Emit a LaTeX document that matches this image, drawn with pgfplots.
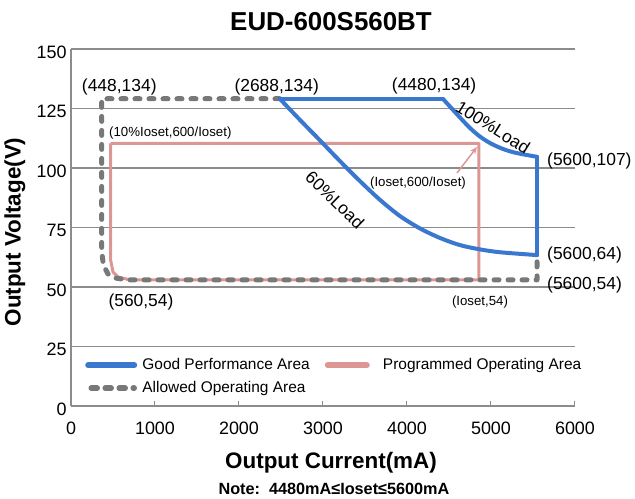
\documentclass[border=0pt]{standalone}
\usepackage{pgfplots}
\pgfplotsset{compat=1.18}
\usetikzlibrary{arrows.meta}
\usepackage{fontspec}
\setmainfont{Liberation Sans}

\definecolor{goodblue}{RGB}{58,120,207}
\definecolor{progpink}{RGB}{220,150,148}
\definecolor{allowgray}{RGB}{120,120,120}
\definecolor{gridgray}{RGB}{140,140,140}

\newcommand{\ann}{\fontsize{17.5}{20}\selectfont}
\newcommand{\anns}{\fontsize{13.3}{15}\selectfont}

\begin{document}
\begin{tikzpicture}
\begin{axis}[
    at={(0,0)}, anchor=south west,
    scale only axis, width=504bp, height=357bp,
    xmin=0, xmax=6000, ymin=0, ymax=150,
    xtick={0,1000,...,6000}, ytick={0,25,...,150},
    axis x line*=bottom, axis y line*=left,
    axis line style={gridgray, line width=1.5bp, -},
    ymajorgrids, major grid style={gridgray, line width=1.5bp},
    ytick style={draw=none},
    xtick style={gridgray, line width=1bp},
    major tick length=5bp, tick align=inside,
    x tick label style={font=\fontsize{18}{20}\selectfont, yshift=-12bp},
    y tick label style={font=\fontsize{18}{20}\selectfont, xshift=-1bp, yshift=-3bp},
    /pgf/number format/assume math mode=true,
    /pgf/number format/1000 sep={},
    clip=false,
    legend cell align=left,
    legend columns=2,
    legend style={at={(axis cs:167,21)}, anchor=north west, draw=none, fill=none,
        inner sep=0pt, row sep=5bp,
        font=\fontsize{15.5}{17}\selectfont,
        nodes={text height=11bp, text depth=3bp, inner sep=2bp},
        /tikz/every even column/.append style={column sep=13bp}},
]
% legend images, in the reference's order
\addlegendimage{legend image code/.code={\draw[goodblue, line width=6bp, line cap=round] (0bp,0bp) -- (46bp,0bp); \path (52bp,0bp);}}
\addlegendentry{Good Performance Area}
\addlegendimage{legend image code/.code={\draw[progpink, line width=6bp, line cap=round] (3bp,0bp) -- (42bp,0bp); \path (56bp,0bp);}}
\addlegendentry{Programmed Operating Area}
\addlegendimage{legend image code/.code={\draw[allowgray, line width=5.5bp, line cap=round, dash pattern=on 6bp off 8bp] (3bp,0bp) -- (46bp,0bp); \path (52bp,0bp);}}
\addlegendentry{Allowed Operating Area}

% programmed operating area
\addplot[forget plot, progpink, line width=3bp, line join=round] coordinates {
    (472,110.3) (4857,110.3) (4857,53.0) (702,53.0) (560,54.2) (500,56.3) (472,61.3) (472,110.3)
};

% allowed operating area
\addplot[forget plot, allowgray, line width=5bp, line cap=round, line join=round,
    dash pattern=on 5bp off 9bp] coordinates {
    (2488,129.1) (365,129.1) (365,65.5) (385,59.2) (440,55.5) (524,53.8) (667,53.0)
    (5548,53.0) (5548,63.4)
};

% good performance area
\addplot[forget plot, goodblue, line width=4bp, line cap=round, line join=round] coordinates {
    (2488,129.0) (4429,129.0)
};
\addplot[forget plot, goodblue, line width=4bp, line cap=round, smooth] coordinates {
    (4429,129.0) (4512,125.8) (4631,121.2) (4750,116.8) (4869,113.2) (4988,110.5)
    (5107,108.5) (5226,107.0) (5345,106.0) (5548,104.7)
};
\addplot[forget plot, goodblue, line width=4bp, line cap=round] coordinates {
    (5548,104.7) (5548,63.4)
};
\addplot[forget plot, goodblue, line width=4bp, line cap=round, smooth] coordinates {
    (2488,129.0) (2726,120.2) (2964,111.6) (3202,102.9) (3440,94.5) (3679,86.6)
    (3917,79.8) (4155,74.6) (4393,70.6) (4631,67.6) (4869,65.8) (5107,64.6) (5548,63.4)
};

% annotations
\node[font=\ann] at (axis cs:575,134.0) {(448,134)};
\node[font=\ann] at (axis cs:2449,134.0) {(2688,134)};
\node[font=\ann] at (axis cs:4323,134.5) {(4480,134)};
\node[font=\ann, rotate=-32] at (axis cs:5024,117.2) {100\%Load};
\node[font=\ann, anchor=west, inner sep=0pt] at (axis cs:5667,102.9) {(5600,107)};
\node[font=\ann, rotate=-44] at (axis cs:3143,86.6) {60\%Load};
\node[font=\anns, anchor=west, inner sep=0pt] at (axis cs:452,114.7) {(10\%Ioset,600/Ioset)};
\node[font=\anns] at (axis cs:4131,93.7) {(Ioset,600/Ioset)};
\draw[progpink, line width=1.5bp, -{Stealth[length=7bp, width=6bp]}]
    (axis cs:4595,97.9) -- (axis cs:4833,108.8);
\node[font=\ann, anchor=west, inner sep=0pt] at (axis cs:5667,63.4) {(5600,64)};
\node[font=\ann, anchor=west, inner sep=0pt] at (axis cs:5667,50.8) {(5600,54)};
\node[font=\ann] at (axis cs:833,43.7) {(560,54)};
\node[font=\anns] at (axis cs:4869,43.7) {(Ioset,54)};
\end{axis}

% title and axis titles
\node[font=\fontsize{26}{30}\selectfont\bfseries] at (260bp,384bp) {EUD-600S560BT};
\node[font=\fontsize{22.5}{26}\selectfont\bfseries] at (260bp,-57bp) {Output Current(mA)};
\node[font=\fontsize{16.3}{19}\selectfont\bfseries] at (263bp,-83bp) {Note:\ \ 4480mA≤Ioset≤5600mA};
\node[font=\fontsize{22.5}{26}\selectfont\bfseries, rotate=90] at (-56bp,174bp) {Output Voltage(V)};

\pgfresetboundingbox
\path (-71bp,-93bp) rectangle (564bp,406bp);
\end{tikzpicture}
\end{document}
